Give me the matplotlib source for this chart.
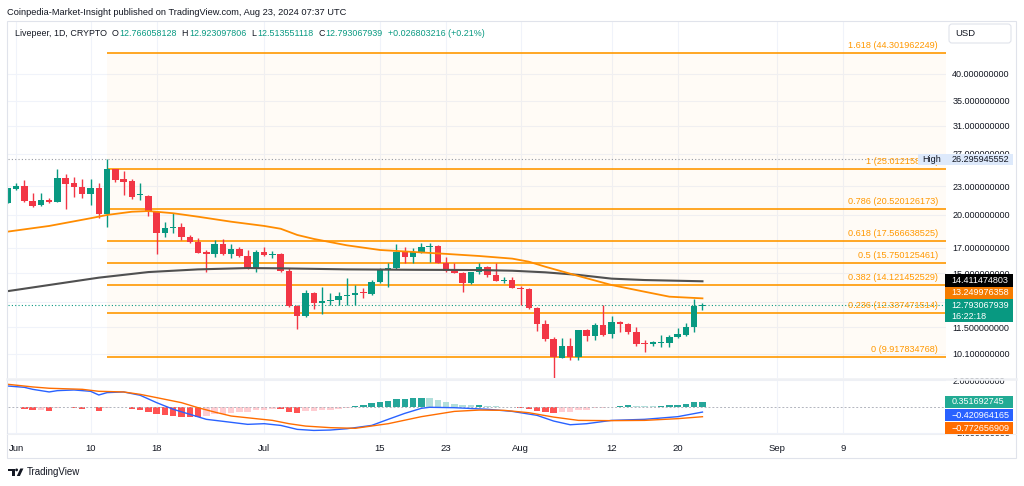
import matplotlib
matplotlib.use('Agg')
import matplotlib.pyplot as plt
import matplotlib.dates as mdates
from matplotlib.patches import Rectangle, Polygon, Circle, FancyBboxPatch
from matplotlib.transforms import blended_transform_factory, offset_copy
from matplotlib.ticker import NullLocator
import numpy as np
import pandas as pd

plt.rcParams['font.family'] = ['Liberation Sans', 'DejaVu Sans']

# ---------------- Livepeer 1D candles ----------------
dates = pd.date_range('2024-05-31', '2024-08-23', freq='D')
opens = [21.21, 22.68, 23.03, 21.42, 20.94, 21.49, 21.31, 23.95, 23.33, 22.91,
         22.14, 22.83, 20.07, 25.01, 23.79, 23.60, 22.00, 21.95, 20.29, 18.25,
         18.76, 18.79, 17.89, 17.48, 16.62, 16.46, 17.31, 16.51, 16.87, 16.32,
         15.35, 16.65, 16.38, 16.49, 15.18, 12.78, 12.15, 13.62, 12.93, 13.06,
         13.14, 13.38, 13.45, 13.62, 13.54, 14.36, 15.23, 15.36, 16.65, 16.27,
         16.65, 17.09, 17.15, 15.79, 15.18, 15.03, 14.27, 15.06, 15.48, 14.86,
         14.45, 14.50, 13.96, 13.85, 12.62, 11.68, 10.83, 9.90, 10.50, 9.92,
         11.34, 11.01, 11.63, 11.10, 11.81, 11.66, 11.25, 10.61, 10.58, 10.65,
         10.65, 10.97, 11.07, 11.53, 12.766058128]
highs = [22.83, 23.33, 23.71, 22.28, 22.21, 21.67, 24.99, 24.43, 24.11, 23.79,
         23.79, 23.33, 26.295945552, 25.05, 24.83, 23.79, 23.33, 22.03, 20.33, 19.32,
         20.14, 19.17, 18.10, 17.80, 16.81, 17.65, 17.74, 17.29, 17.04, 16.81,
         16.81, 17.09, 16.75, 16.55, 15.36, 12.83, 13.80, 13.69, 14.03, 13.60,
         13.69, 14.62, 14.15, 13.92, 14.50, 15.36, 15.79, 17.31, 17.04, 16.95,
         17.37, 17.42, 17.23, 16.27, 15.75, 15.11, 15.11, 15.75, 15.54, 15.75,
         14.74, 14.74, 14.08, 13.92, 12.72, 11.91, 10.97, 10.88, 10.88, 11.34,
         11.38, 11.72, 12.83, 12.15, 11.87, 11.76, 11.53, 10.79, 10.74, 11.07,
         11.07, 11.44, 11.72, 13.21, 12.923097806]
lows = [21.15, 22.57, 21.31, 20.80, 20.90, 21.15, 21.28, 20.53, 21.85, 21.67,
        20.97, 19.71, 18.79, 23.52, 22.00, 21.57, 21.49, 19.90, 16.49, 17.89,
        18.25, 17.65, 17.37, 16.54, 15.08, 16.27, 16.40, 16.14, 16.27, 15.28,
        15.11, 16.32, 16.14, 15.11, 12.72, 11.40, 12.09, 12.57, 12.25, 12.83,
        12.83, 12.83, 12.83, 13.25, 13.45, 14.27, 13.99, 15.33, 15.75, 15.75,
        16.59, 15.87, 15.75, 15.11, 14.99, 13.69, 14.22, 14.94, 14.74, 14.43,
        14.27, 13.92, 12.83, 12.55, 11.31, 10.75, 8.93, 9.87, 9.78, 9.78,
        10.75, 10.79, 11.03, 10.88, 11.25, 11.12, 10.48, 10.19, 10.50, 10.45,
        10.45, 10.88, 11.03, 11.25, 12.513551118]
closes = [22.76, 23.03, 21.39, 20.90, 21.49, 21.28, 23.95, 23.29, 22.88, 22.14,
          22.83, 20.10, 25.012158201, 23.71, 23.52, 21.78, 22.06, 20.29, 18.25, 18.73,
          18.82, 17.89, 17.46, 16.59, 16.46, 17.31, 16.51, 16.87, 16.32, 15.35,
          16.65, 16.38, 16.43, 15.18, 12.78, 12.15, 13.62, 12.93, 13.08, 13.14,
          13.40, 13.47, 13.58, 13.58, 14.36, 15.28, 15.36, 16.65, 16.27, 16.67,
          17.04, 17.15, 15.79, 15.18, 15.03, 14.27, 15.06, 15.48, 14.86, 14.45,
          14.50, 13.96, 13.85, 12.62, 11.68, 10.83, 9.917834768, 10.50, 9.92, 11.34,
          11.01, 11.63, 11.07, 11.81, 11.66, 11.21, 10.58, 10.58, 10.67, 10.69,
          10.97, 11.10, 11.53, 12.77, 12.793067939]

# moving averages
ema_dates = ['2024-05-31', '2024-06-05', '2024-06-10', '2024-06-12', '2024-06-15',
             '2024-06-17', '2024-06-20', '2024-06-23', '2024-06-27', '2024-07-01',
             '2024-07-03', '2024-07-05', '2024-07-07', '2024-07-11', '2024-07-15',
             '2024-07-19', '2024-07-23', '2024-07-27', '2024-07-31', '2024-08-02',
             '2024-08-04', '2024-08-08', '2024-08-12', '2024-08-16', '2024-08-19',
             '2024-08-23']
ema_vals = [18.40, 18.92, 19.65, 19.97, 20.29, 20.36, 20.14, 19.80, 19.32, 18.92,
            18.66, 18.10, 17.75, 17.20, 16.81, 16.65, 16.49, 16.32, 16.11, 15.87,
            15.48, 14.79, 14.15, 13.69, 13.36, 13.249976358]
sma_dates = ['2024-05-31', '2024-06-05', '2024-06-11', '2024-06-17', '2024-06-23',
             '2024-06-29', '2024-07-03', '2024-07-11', '2024-07-19', '2024-07-27',
             '2024-07-31', '2024-08-04', '2024-08-08', '2024-08-12', '2024-08-16',
             '2024-08-23']
sma_vals = [13.73, 14.15, 14.67, 15.08, 15.28, 15.38, 15.36, 15.28, 15.25, 15.23,
            15.18, 15.06, 14.87, 14.60, 14.50, 14.411474803]

# fibonacci retracement (log)
fib_levels = [1.618, 1, 0.786, 0.618, 0.5, 0.382, 0.236, 0]
fib_prices = [44.301962249, 25.012158201, 20.520126173, 17.566638525,
              15.750125461, 14.121452529, 12.337471514, 9.917834768]
fib_start = '2024-06-12'

high_price = 26.295945552
last_price = 12.793067939
ema_last = 13.249976358
sma_last = 14.411474803
countdown = '16:22:18'

# header
title = 'Coinpedia-Market-Insight published on TradingView.com, Aug 23, 2024 07:37 UTC'
symbol = 'Livepeer, 1D, CRYPTO'
ohlc_keys = ['O', 'H', 'L', 'C']
ohlc_vals = ['12.766058128', '12.923097806', '12.513551118', '12.793067939']
change_txt = '+0.026803216 (+0.21%)'

# MACD
macd_dates = ['2024-05-31', '2024-06-02', '2024-06-03', '2024-06-05', '2024-06-06',
              '2024-06-08', '2024-06-10', '2024-06-11', '2024-06-12', '2024-06-14',
              '2024-06-16', '2024-06-18', '2024-06-20', '2024-06-22', '2024-06-24',
              '2024-06-26', '2024-06-29', '2024-07-01', '2024-07-03', '2024-07-05',
              '2024-07-07', '2024-07-09', '2024-07-11', '2024-07-12', '2024-07-14',
              '2024-07-16', '2024-07-18', '2024-07-20', '2024-07-21', '2024-07-24',
              '2024-07-28', '2024-07-31', '2024-08-03', '2024-08-05', '2024-08-07',
              '2024-08-09', '2024-08-12', '2024-08-16', '2024-08-20', '2024-08-23']
macd_vals = [1.55, 1.45, 1.30, 1.10, 1.20, 1.25, 1.15, 0.87, 1.05, 1.10,
             0.85, 0.29, -0.21, -0.59, -0.97, -1.12, -1.35, -1.30, -1.43, -1.73,
             -1.81, -1.78, -1.68, -1.60, -1.43, -0.97, -0.52, -0.14, -0.06, -0.09,
             -0.21, -0.37, -0.67, -1.10, -1.38, -1.30, -1.05, -0.97, -0.77, -0.420964165]
signal_dates = ['2024-05-31', '2024-06-03', '2024-06-05', '2024-06-09', '2024-06-11',
                '2024-06-14', '2024-06-16', '2024-06-18', '2024-06-21', '2024-06-23',
                '2024-06-25', '2024-06-27', '2024-06-30', '2024-07-02', '2024-07-04',
                '2024-07-06', '2024-07-09', '2024-07-12', '2024-07-16', '2024-07-20',
                '2024-07-24', '2024-07-27', '2024-07-30', '2024-08-02', '2024-08-05',
                '2024-08-08', '2024-08-12', '2024-08-16', '2024-08-20', '2024-08-23']
signal_vals = [1.68, 1.48, 1.38, 1.30, 1.15, 1.10, 0.92, 0.67, 0.29, -0.09,
               -0.42, -0.72, -0.92, -1.05, -1.30, -1.48, -1.60, -1.65, -1.30, -0.77,
               -0.37, -0.27, -0.29, -0.47, -0.80, -1.05, -1.07, -1.05, -0.92, -0.772656909]
hist_vals = [-0.02, -0.03, -0.18, -0.26, -0.25, -0.33, -0.12, -0.06, -0.10, -0.20,
             -0.07, -0.36, -0.15, -0.04, -0.03, -0.20, -0.25, -0.38, -0.58, -0.66,
             -0.71, -0.76, -0.78, -0.80, -0.71, -0.58, -0.53, -0.46, -0.45, -0.44,
             -0.30, -0.26, -0.20, -0.22, -0.38, -0.46, -0.36, -0.35, -0.28, -0.23,
             -0.18, -0.10, 0.02, 0.08, 0.23, 0.32, 0.42, 0.54, 0.57, 0.62,
             0.63, 0.61, 0.49, 0.32, 0.21, 0.11, 0.09, 0.11, 0.04, 0.01,
             -0.03, -0.07, -0.10, -0.17, -0.33, -0.41, -0.46, -0.45, -0.40, -0.30,
             -0.23, -0.15, -0.10, -0.02, 0.05, 0.08, 0.05, 0.03, 0.02, 0.05,
             0.10, 0.14, 0.19, 0.32, 0.351692745]

# 13.0 sits under the last-price tag, so it carries no visible label
price_ticks = [10.1, 11.5, 13, 15, 17, 20, 23, 27, 31, 35, 40]
price_tick_labels = ['10.100000000', '11.500000000', '', '15.000000000', '17.000000000',
                     '20.000000000', '23.000000000', '27.000000000', '31.000000000',
                     '35.000000000', '40.000000000']
macd_ticks = [-2, 2]
date_ticks = ['2024-06-01', '2024-06-10', '2024-06-18', '2024-07-01', '2024-07-15',
              '2024-07-23', '2024-08-01', '2024-08-12', '2024-08-20', '2024-09-01',
              '2024-09-09']
date_labels = ['Jun', '10', '18', 'Jul', '15', '23', 'Aug', '12', '20', 'Sep', '9']

GREEN, RED = '#089981', '#f23645'
TXT = '#131722'
FIB = '#ff9800'

# ---------------- layout ----------------
W, H = 1024, 486
fig = plt.figure(figsize=(W / 100, H / 100), dpi=100)
fig.patch.set_facecolor('white')


def frect(x0, y0, x1, y1):
    return [x0 / W, 1 - y1 / H, (x1 - x0) / W, (y1 - y0) / H]


ax1 = fig.add_axes(frect(7.5, 22, 946, 378))
ax2 = fig.add_axes(frect(7.5, 379, 946, 434))


def dnum(d):
    return mdates.date2num(pd.to_datetime(d))


x = dnum(dates)
O, Hi, L, C = map(np.array, (opens, highs, lows, closes))
xl = (x[0] - 0.04, x[0] + 113.45)

for ax in (ax1, ax2):
    ax.set_xlim(*xl)
    ax.set_xticks(dnum(date_ticks))
    ax.grid(True, color='#f0f3fa', lw=0.8)
    ax.set_axisbelow(True)
    for s in ax.spines.values():
        s.set_visible(False)
    ax.yaxis.tick_right()
    ax.tick_params(axis='y', length=0, pad=4.5, labelsize=6.5, labelcolor=TXT)

# ---- price pane ----
ax1.set_yscale('log')
ax1.set_ylim(8.955, 51.6)
ax1.yaxis.set_minor_locator(NullLocator())
ax1.set_yticks(price_ticks)
ax1.set_yticklabels(price_tick_labels)
ax1.tick_params(axis='x', length=0, labelbottom=False)

# fibonacci block
fx0 = dnum(fib_start)
ax1.fill_between([fx0, xl[1]], min(fib_prices), max(fib_prices), color=FIB, alpha=0.035, lw=0, zorder=1)
ax1.hlines(fib_prices, fx0, xl[1], color=FIB, lw=1.2, zorder=2)
lab_tr = offset_copy(blended_transform_factory(ax1.transAxes, ax1.transData), fig=fig, y=2.2, units='points')
for lvl, p in zip(fib_levels, fib_prices):
    ax1.text(0.9915, p, f'{lvl:g} ({p:.9f})', transform=lab_tr, ha='right', va='bottom',
             fontsize=6.6, color=FIB, zorder=6)

ax1.axhline(high_price, color='#9598a1', lw=0.8, ls=(0, (1, 2)), zorder=2)
ax1.axhline(last_price, color=GREEN, lw=0.8, ls=(0, (1, 2)), zorder=2)

# candles
up = C >= O
ccol = np.where(up, GREEN, RED)
body_lo = np.minimum(O, C)
body_h = np.maximum(np.abs(C - O), body_lo * 0.005)
ax1.vlines(x, L, Hi, color=ccol, lw=1, zorder=3)
ax1.bar(x, body_h, bottom=body_lo, width=0.78, color=ccol, lw=0, zorder=4)

ax1.plot(dnum(sma_dates), sma_vals, color='#505050', lw=1.5, zorder=5)
ax1.plot(dnum(ema_dates), ema_vals, color='#ff8c00', lw=1.3, zorder=5)

# ---- MACD pane ----
ax2.set_ylim(-2.08, 2.08)
ax2.set_yticks(macd_ticks)
ax2.set_yticklabels([f'{v:.9f}'.replace('-', '\u2212') for v in macd_ticks])
ax2.tick_params(axis='x', length=0, pad=7, labelsize=6.8, labelcolor=TXT)
ax2.set_xticklabels(date_labels)
hv = np.array(hist_vals)
prev = np.r_[hv[0], hv[:-1]]
hcol = np.where(hv >= 0, np.where(hv >= prev, '#26a69a', '#b2dfdb'),
                np.where(hv < prev, '#ff5252', '#ffcdd2'))
ax2.bar(x, hv, width=0.78, color=hcol, lw=0, zorder=2)
ax2.axhline(0, color='#b2b5be', lw=0.7, ls=(0, (2, 2)), zorder=3)
ax2.plot(dnum(macd_dates), macd_vals, color='#2962ff', lw=1, zorder=4)
ax2.plot(dnum(signal_dates), signal_vals, color='#ff6d00', lw=1, zorder=4)

# ---------------- overlay: chrome, axis tags ----------------
ov = fig.add_axes([0, 0, 1, 1], zorder=10)
ov.set_xlim(0, W)
ov.set_ylim(H, 0)
ov.axis('off')
ov.patch.set_alpha(0)


def ypx(ax, v):
    return H - ax.transData.transform((xl[0], v))[1]


def tag(top, text, bg, fg='white', h=12.5, text2=None, x0=945, x1=1013):
    hh = h if text2 is None else h * 1.8
    ov.add_patch(Rectangle((x0, top), x1 - x0, hh, color=bg, lw=0, zorder=3))
    ov.text(951.5, top + h / 2, text, fontsize=6.5, color=fg, va='center', ha='left', zorder=4)
    if text2:
        ov.text(951.5, top + h * 1.35, text2, fontsize=6.5, color=fg, va='center', ha='left', zorder=4)
    return top + hh


# High tag
yh = ypx(ax1, high_price)
ov.add_patch(Rectangle((918, yh - 5.5), 27, 11, color='#dde9fb', lw=0, zorder=3))
ov.text(931.5, yh, 'High', fontsize=6.5, color=TXT, ha='center', va='center', zorder=4)
tag(yh - 5.5, f'{high_price:.9f}', '#dde9fb', TXT, h=11)

# stacked price tags (last price at its level, the others pushed above)
gtop = ypx(ax1, last_price) - 6.25
otop = gtop - 12.5
btop = otop - 12.5
tag(btop, f'{sma_last:.9f}', '#000000')
tag(otop, f'{ema_last:.9f}', '#f57c00')
tag(gtop, f'{last_price:.9f}', GREEN, text2=countdown)

# MACD tags (stacked downward)
t1 = ypx(ax2, hist_vals[-1]) - 6.2
b1 = tag(t1, f'{hist_vals[-1]:.9f}', '#22ab94', h=12.4)
b2 = tag(b1 + 1, f'{macd_vals[-1]:.9f}'.replace('-', '\u2212'), '#2962ff', h=12.4)
tag(b2 + 0.6, f'{signal_vals[-1]:.9f}'.replace('-', '\u2212'), '#ff6d00', h=12.4)

# frame and separators
ov.add_patch(Rectangle((7, 21), 1009, 437, fill=False, ec='#e0e3eb', lw=0.8))
ov.plot([7, 1016], [378.5, 378.5], color='#eef0f4', lw=1.8)
ov.plot([7, 1016], [434, 434], color='#eef0f4', lw=0.8)

# USD box
ov.add_patch(FancyBboxPatch((949, 24), 62, 19, boxstyle='round,pad=0,rounding_size=3',
                            fc='white', ec='#e0e3eb', lw=0.8, zorder=3))
ov.text(955, 34, 'USD', fontsize=6.8, color=TXT, va='center', zorder=4)

# title and legend (legend pieces laid out one after another)
ov.text(7, 12.5, title, fontsize=6.7, color=TXT, va='center')
renderer = fig.canvas.get_renderer()


def put(xpos, s, color, gap):
    t = ov.text(xpos, 33.3, s, fontsize=6.4, color=color, va='center')
    return xpos + t.get_window_extent(renderer).width + gap


cx = put(15, symbol, TXT, 4.5)
for k, v in zip(ohlc_keys, ohlc_vals):
    cx = put(cx, k, TXT, 0.8)
    cx = put(cx, v, GREEN, 5)
put(cx, change_txt, GREEN, 0)

# TradingView logo
ov.add_patch(Polygon([(8.3, 468.5), (14.6, 468.5), (14.6, 476), (11.6, 476), (11.6, 471.2), (8.3, 471.2)],
                     closed=True, color=TXT, lw=0))
ov.add_patch(Circle((16.6, 469.9), 1.4, color=TXT, lw=0))
ov.add_patch(Polygon([(16.8, 476), (19.9, 476), (23.4, 468.5), (20.3, 468.5)], closed=True, color=TXT, lw=0))
ov.text(26.5, 472.3, 'TradingView', fontsize=7, color=TXT, va='center')

fig.savefig('out.png', dpi=100)
